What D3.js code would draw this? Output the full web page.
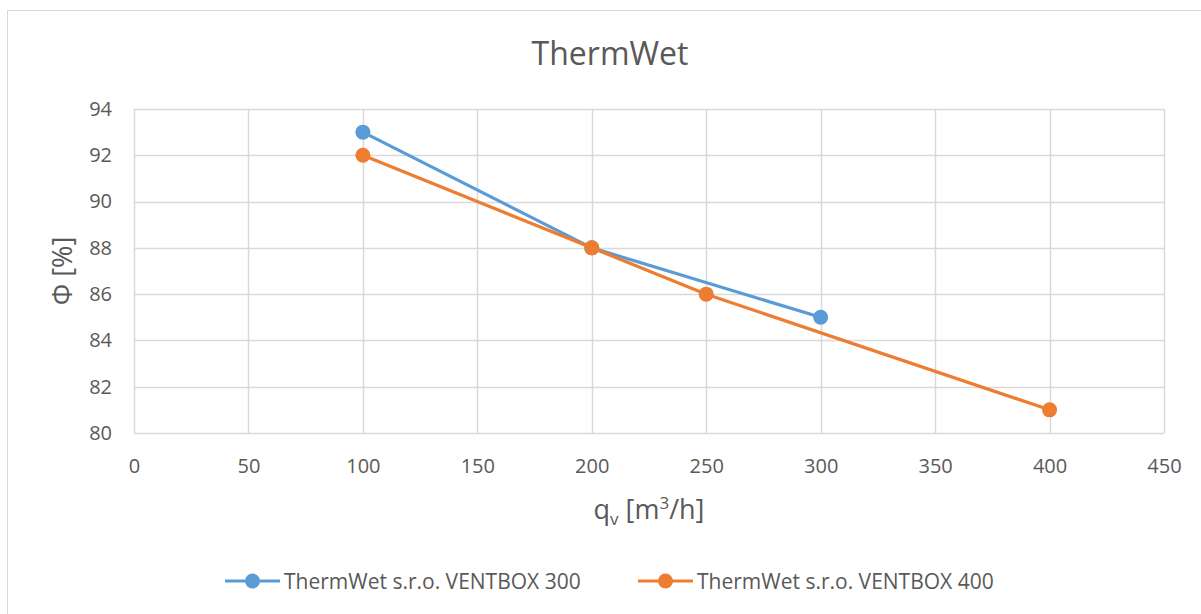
<!DOCTYPE html>
<html>
<head>
<meta charset="utf-8">
<script src="https://cdn.jsdelivr.net/npm/d3@7"></script>
<style>
  body { margin: 0; background: #fff; }
  svg text { font-family: "Open Sans", sans-serif; fill: #595959; }
</style>
</head>
<body>
<div id="chart"></div>
<script>
// data
const seriesNames = ['ThermWet s.r.o. VENTBOX 300', 'ThermWet s.r.o. VENTBOX 400'];
const flow300 = [100, 200, 300];
const phi300 = [93, 88, 85];
const flow400 = [100, 200, 250, 400];
const phi400 = [92, 88, 86, 81];
const xTicks = [0, 50, 100, 150, 200, 250, 300, 350, 400, 450];
const yTicks = [80, 82, 84, 86, 88, 90, 92, 94];
const colors = ['#5B9BD5', '#ED7D31'];

const width = 1201, height = 614;
const margin = { left: 134, right: 37, top: 109, bottom: 181 };

const svg = d3.select('#chart').append('svg')
  .attr('width', width)
  .attr('height', height);

// outer chart frame
svg.append('rect')
  .attr('x', 7.5).attr('y', 10.5)
  .attr('width', 1210).attr('height', 620)
  .attr('fill', 'none')
  .attr('stroke', '#d9d9d9');

const x = d3.scaleLinear().domain([0, 450]).range([margin.left, width - margin.right]);
const y = d3.scaleLinear().domain([80, 94]).range([height - margin.bottom, margin.top]);

// grid
svg.append('g')
  .selectAll('line')
  .data(xTicks)
  .enter().append('line')
  .attr('x1', d => Math.round(x(d)) + 0.5)
  .attr('x2', d => Math.round(x(d)) + 0.5)
  .attr('y1', y(94))
  .attr('y2', y(80))
  .attr('stroke', '#d9d9d9')
  .attr('stroke-width', 1.5);

svg.append('g')
  .selectAll('line')
  .data(yTicks)
  .enter().append('line')
  .attr('x1', x(0))
  .attr('x2', x(450))
  .attr('y1', d => Math.round(y(d)) + 0.5)
  .attr('y2', d => Math.round(y(d)) + 0.5)
  .attr('stroke', '#d9d9d9')
  .attr('stroke-width', 1.5);

// axes labels via d3 axes
const xAxis = svg.append('g')
  .attr('transform', `translate(0,${y(80)})`)
  .call(d3.axisBottom(x).tickValues(xTicks).tickSize(0).tickPadding(26));
xAxis.select('.domain').remove();
xAxis.selectAll('text')
  .style('font-size', '20px')
  .attr('fill', '#595959');

const yAxis = svg.append('g')
  .attr('transform', `translate(${x(0)},0)`)
  .call(d3.axisLeft(y).tickValues(yTicks).tickSize(0).tickPadding(22));
yAxis.select('.domain').remove();
yAxis.selectAll('text')
  .style('font-size', '20px')
  .attr('fill', '#595959');

// title
svg.append('text')
  .attr('x', 610)
  .attr('y', 65)
  .attr('text-anchor', 'middle')
  .style('font-size', '32px')
  .text('ThermWet');

// axis titles
const xt = svg.append('text')
  .attr('x', (x(0) + x(450)) / 2)
  .attr('y', 519)
  .attr('text-anchor', 'middle')
  .style('font-size', '27px');
xt.append('tspan').text('q');
xt.append('tspan').attr('dy', 6).style('font-size', '17px').text('v');
xt.append('tspan').attr('dy', -6).text(' [m');
xt.append('tspan').attr('dy', -10).style('font-size', '17px').text('3');
xt.append('tspan').attr('dy', 10).text('/h]');

svg.append('text')
  .attr('transform', `translate(72,${(y(80) + y(94)) / 2}) rotate(-90)`)
  .attr('text-anchor', 'middle')
  .style('font-size', '27px')
  .text('Φ [%]');

// series
const series = [
  { name: seriesNames[0], pts: flow300.map((f, i) => [f, phi300[i]]), color: colors[0] },
  { name: seriesNames[1], pts: flow400.map((f, i) => [f, phi400[i]]), color: colors[1] }
];

const line = d3.line().x(d => x(d[0])).y(d => y(d[1]));

series.forEach(s => {
  svg.append('path')
    .datum(s.pts)
    .attr('d', line)
    .attr('fill', 'none')
    .attr('stroke', s.color)
    .attr('stroke-width', 3.2)
    .attr('stroke-linejoin', 'round');

  svg.append('g')
    .selectAll('circle')
    .data(s.pts)
    .enter().append('circle')
    .attr('cx', d => x(d[0]))
    .attr('cy', d => y(d[1]))
    .attr('r', 7.5)
    .attr('fill', s.color);
});

// legend
const legendX = [225, 638];
const legendY = 581;
series.forEach((s, i) => {
  const g = svg.append('g').attr('transform', `translate(${legendX[i]},${legendY})`);
  g.append('line')
    .attr('x1', 0).attr('x2', 55)
    .attr('y1', 0).attr('y2', 0)
    .attr('stroke', s.color)
    .attr('stroke-width', 3.2);
  g.append('circle')
    .attr('cx', 27.5).attr('cy', 0)
    .attr('r', 7.5)
    .attr('fill', s.color);
  g.append('text')
    .attr('x', 59)
    .attr('y', 7.5)
    .style('font-size', '21px')
    .text(s.name);
});
</script>
</body>
</html>
